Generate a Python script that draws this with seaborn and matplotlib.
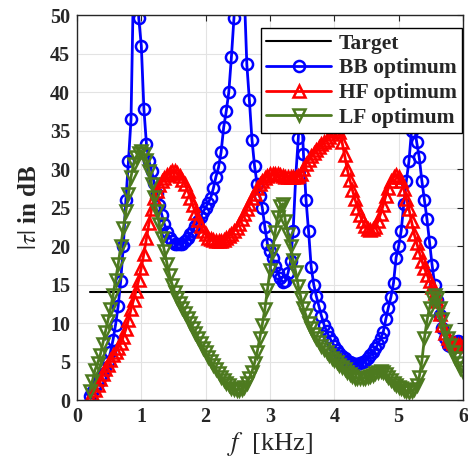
import numpy as np
import pandas as pd
import matplotlib
matplotlib.use("Agg")
import matplotlib.pyplot as plt
import seaborn as sns

# frequency grid (kHz): 146 samples from 0.2 to 6.0
freq_khz = np.round(np.linspace(0.2, 6.0, 146), 2)

bb_db = [
    0.5, 1.0, 1.6, 2.2, 2.8, 3.4, 4.1, 5.0, 6.2, 7.8,
    9.8, 12.2, 15.5, 20.0, 26.0, 31.0, 36.5, 55.0, 60.0, 49.6,
    46.0, 37.8, 33.2, 31.0, 29.8, 28.2, 26.8, 25.3, 24.0, 22.8,
    21.8, 21.1, 20.6, 20.3, 20.2, 20.2, 20.3, 20.6, 21.0, 21.5,
    22.0, 22.6, 23.2, 23.8, 24.4, 25.0, 25.6, 26.3, 27.5, 29.0,
    30.2, 32.2, 35.4, 37.5, 40.0, 44.5, 49.6, 58.0, 65.0, 62.0,
    53.0, 43.6, 38.9, 33.8, 30.4, 28.0, 26.5, 25.0, 22.5, 20.3,
    19.3, 18.4, 17.4, 16.5, 15.8, 15.3, 15.5, 16.5, 18.0, 22.0,
    29.0, 34.0, 40.0, 32.0, 26.0, 21.9, 17.3, 15.0, 13.5, 12.2,
    10.9, 9.8, 8.9, 8.2, 7.6, 7.0, 6.5, 6.1, 5.7, 5.4,
    5.1, 4.9, 4.8, 4.7, 4.7, 4.8, 4.9, 5.1, 5.4, 5.8,
    6.2, 6.7, 7.3, 8.0, 8.8, 10.5, 12.0, 13.4, 15.2, 18.5,
    20.0, 22.0, 25.5, 28.5, 31.0, 35.0, 36.0, 33.5, 31.5, 28.5,
    26.0, 23.5, 20.5, 17.5, 15.0, 13.0, 11.0, 9.3, 8.0, 7.2,
    7.0, 7.2, 7.5, 7.6, 7.5, 7.3,
]

hf_db = [
    0.3, 0.8, 1.3, 2.0, 2.7, 3.4, 4.0, 4.6, 5.2, 5.8,
    6.3, 6.8, 7.4, 8.2, 9.2, 10.4, 11.8, 13.0, 14.2, 15.6,
    17.2, 19.0, 21.0, 23.0, 24.8, 26.2, 27.2, 27.9, 28.4, 28.8,
    29.2, 29.5, 29.7, 29.7, 29.5, 29.1, 28.6, 28.0, 27.2, 26.3,
    25.3, 24.3, 23.4, 22.6, 22.0, 21.5, 21.1, 20.9, 20.8, 20.7,
    20.7, 20.7, 20.8, 21.0, 21.3, 21.6, 22.0, 22.4, 22.9, 23.5,
    24.1, 24.8, 25.5, 26.2, 26.8, 27.5, 28.0, 28.5, 28.8, 29.1,
    29.3, 29.4, 29.4, 29.3, 29.2, 29.1, 29.0, 29.0, 29.0, 29.0,
    29.0, 29.1, 29.4, 30.0, 30.6, 31.2, 31.7, 32.1, 32.5, 32.9,
    33.2, 33.5, 33.8, 34.2, 34.6, 35.0, 35.2, 34.8, 33.5, 31.8,
    30.0, 28.6, 27.3, 26.1, 25.0, 24.0, 23.2, 22.6, 22.2, 22.1,
    22.2, 22.5, 23.2, 24.2, 25.3, 26.5, 27.5, 28.4, 28.9, 29.2,
    29.0, 28.5, 27.4, 26.1, 24.8, 23.2, 21.6, 20.4, 19.2, 18.1,
    17.1, 16.3, 15.5, 14.7, 13.9, 12.9, 11.2, 9.8, 8.7, 8.0,
    7.6, 7.4, 7.3, 7.2, 7.1, 7.0,
]

lf_db = [
    1.2, 2.5, 3.9, 4.8, 5.8, 7.3, 8.8, 10.3, 11.8, 13.6,
    15.6, 17.6, 20.0, 22.3, 24.5, 26.8, 29.0, 30.6, 31.6, 32.1,
    32.3, 32.0, 31.2, 29.8, 28.0, 26.4, 24.6, 22.8, 21.0, 19.3,
    17.7, 16.2, 15.0, 14.0, 13.3, 12.6, 11.9, 11.3, 10.6, 10.0,
    9.3, 8.7, 8.0, 7.4, 6.8, 6.2, 5.6, 5.1, 4.5, 4.0,
    3.5, 3.0, 2.6, 2.2, 1.9, 1.6, 1.4, 1.3, 1.3, 1.4,
    1.7, 2.2, 2.9, 3.7, 4.8, 6.2, 8.0, 9.8, 11.8, 14.3,
    16.9, 19.4, 21.8, 23.8, 25.2, 25.5, 23.2, 21.6, 20.0, 18.2,
    16.6, 14.8, 13.3, 11.9, 11.0, 10.0, 9.3, 8.6, 8.0, 7.5,
    7.0, 6.6, 6.2, 5.8, 5.5, 5.2, 4.9, 4.6, 4.3, 4.0,
    3.7, 3.4, 3.1, 2.9, 2.8, 2.8, 2.8, 2.9, 3.0, 3.1,
    3.3, 3.5, 3.7, 3.8, 3.7, 3.4, 3.0, 2.6, 2.2, 1.9,
    1.7, 1.5, 1.3, 1.2, 1.1, 1.2, 1.4, 1.9, 3.0, 5.0,
    8.0, 10.3, 12.0, 13.2, 13.6, 13.3, 12.0, 10.5, 9.0, 8.0,
    7.2, 6.3, 5.5, 4.8, 4.1, 3.6,
]

target_f = [0.2, 6.0]
target_db = [14, 14]

x_ticks = [0, 1, 2, 3, 4, 5, 6]
y_ticks = [0, 5, 10, 15, 20, 25, 30, 35, 40, 45, 50]
series_labels = ["Target", "BB optimum", "HF optimum", "LF optimum"]

sns.set_theme(style="whitegrid")
plt.rcParams['font.family'] = ['Liberation Serif', 'DejaVu Serif']
plt.rcParams['mathtext.fontset'] = 'stix'

fig = plt.figure(figsize=(4.68, 4.72), dpi=100)
ax = fig.add_axes([0.1645, 0.1525, 0.8248, 0.8157])
ax.set_facecolor('white')

blue = '#0000ff'
red = '#ff0000'
green = '#4d7a1f'

sns.lineplot(x=target_f, y=target_db, ax=ax, color='black', lw=1.5,
             label=series_labels[0])
mk = dict(markersize=8, markerfacecolor='none', markeredgewidth=1.8)
sns.lineplot(x=freq_khz, y=bb_db, ax=ax, color=blue, lw=2, marker='o',
             markeredgecolor=blue, label=series_labels[1], **mk)
sns.lineplot(x=freq_khz, y=hf_db, ax=ax, color=red, lw=2, marker='^',
             markeredgecolor=red, label=series_labels[2], **mk)
sns.lineplot(x=freq_khz, y=lf_db, ax=ax, color=green, lw=2, marker='v',
             markeredgecolor=green, label=series_labels[3], **mk)

ax.set_xlim(0, 6)
ax.set_ylim(0, 50)
ax.set_xticks(x_ticks)
ax.set_yticks(y_ticks)
ax.set_xticklabels([str(t) for t in x_ticks], fontweight='bold', fontsize=14.5)
ax.set_yticklabels([str(t) for t in y_ticks], fontweight='bold', fontsize=14.5)

ax.grid(True, color='#e3e3e3', lw=0.8)
for s in ax.spines.values():
    s.set_color('#262626')
    s.set_linewidth(1.0)
ax.tick_params(direction='in', length=4, width=0.8, top=True, right=True,
               colors='#262626', pad=5)
for lab in ax.get_xticklabels() + ax.get_yticklabels():
    lab.set_color('#262626')

ax.set_xlabel(r'$f$  [kHz]', fontsize=19, color='#262626', labelpad=2)
ax.set_ylabel(r'$|\tau|$ in dB', fontsize=18, fontweight='bold',
              color='#262626', labelpad=6)

leg = ax.legend(loc='upper right', bbox_to_anchor=(0.997, 0.966),
                prop={'weight': 'bold', 'size': 15.5}, frameon=True,
                fancybox=False, edgecolor='black', framealpha=1,
                handlelength=3.0, borderpad=0.25, labelspacing=0.22,
                handletextpad=0.35, borderaxespad=0)
leg.get_frame().set_linewidth(1.0)

fig.savefig('out.png', dpi=100)
